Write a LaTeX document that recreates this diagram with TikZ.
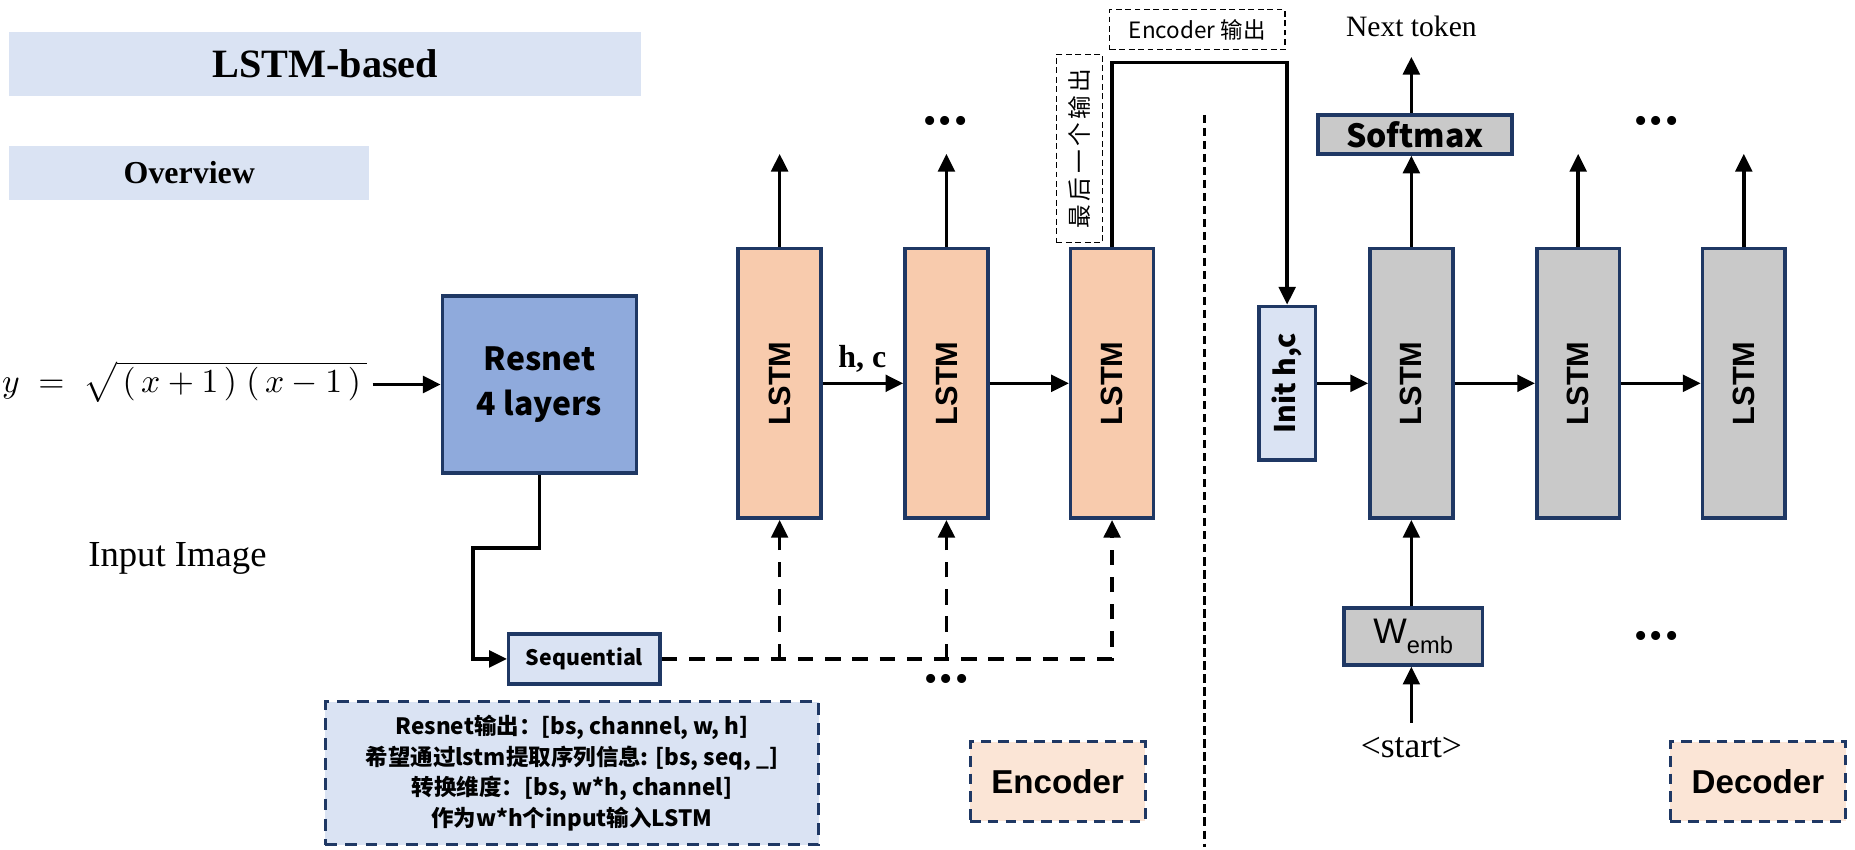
\documentclass[tikz,border=0pt]{standalone}
\usepackage{fontspec}
\setmainfont{Liberation Serif}
\setsansfont{Liberation Sans}
\newfontfamily\cjk{Noto Sans CJK SC}
\usetikzlibrary{arrows.meta}
\definecolor{navyb}{rgb}{0.122,0.220,0.392}
\definecolor{paleblue}{rgb}{0.855,0.890,0.953}
\definecolor{resblue}{rgb}{0.561,0.667,0.863}
\definecolor{lstmorange}{rgb}{0.973,0.796,0.678}
\definecolor{lstmgray}{rgb}{0.788,0.788,0.788}
\definecolor{tagorange}{rgb}{0.984,0.898,0.839}
\tikzset{
  lstmenc/.style={draw=navyb,line width=3pt,fill=lstmorange,minimum width=70,minimum height=228,inner sep=0pt,font=\sffamily\bfseries\fontsize{26}{26}\selectfont},
  lstmdec/.style={lstmenc,fill=lstmgray},
  plainbox/.style={draw=navyb,line width=3pt,inner sep=0pt},
  tagbox/.style={draw=navyb,line width=2.5pt,dash pattern=on 9pt off 6pt,fill=tagorange,minimum width=148,minimum height=67,inner sep=0pt,font=\sffamily\bfseries\fontsize{28}{28}\selectfont},
  hintbox/.style={draw=black,line width=1.3pt,dash pattern=on 5pt off 3pt,inner sep=0pt},
  flow/.style={->,line width=3pt},
  feed/.style={->,line width=3pt,dash pattern=on 13pt off 10pt},
  dots/.style={inner sep=0pt,font=\fontsize{32}{32}\selectfont},
}
\begin{document}
\begin{tikzpicture}[line join=miter,>={Triangle[length=15pt,width=14pt]},x=1pt,y=-1pt]
\useasboundingbox (0,0) rectangle (1568,718);
% headings
\node[fill=paleblue,minimum width=534,minimum height=54,inner sep=0pt,font=\bfseries\fontsize{34}{34}\selectfont] (title) at (275,54) {LSTM-based};
\node[fill=paleblue,minimum width=304,minimum height=46,inner sep=0pt,font=\bfseries\fontsize{27}{27}\selectfont] (overview) at (160,146) {Overview};
% input side
\node[anchor=east,inner sep=0pt] (formula) at (310,323) {\resizebox{308pt}{!}{$y\;=\;\sqrt{\,(\,x+1\,)\;(\,x-1\,)\,}$}};
\node[inner sep=0pt,font=\fontsize{31}{31}\selectfont] (caption) at (150,472) {Input Image};
\node[plainbox,fill=resblue,minimum width=164,minimum height=150,align=center,font=\cjk\bfseries\fontsize{27}{38}\selectfont] (resnet) at (456,325) {Resnet\\4 layers};
\node[plainbox,fill=paleblue,minimum width=128,minimum height=42,font=\cjk\bfseries\fontsize{18}{18}\selectfont] (seq) at (494,557) {Sequential};
\node[plainbox,draw=navyb,dash pattern=on 10pt off 7pt,fill=paleblue,minimum width=417,minimum height=121,align=center,font=\cjk\bfseries\fontsize{19}{26}\selectfont] (note) at (483.5,653.5) {Resnet输出：[bs, channel, w, h]\\希望通过lstm提取序列信息: [bs, seq, \_]\\转换维度：[bs, w*h, channel]\\作为w*h个input输入LSTM};
% encoder
\node[lstmenc] (e1) at (659,324) {\rotatebox{90}{LSTM}};
\node[lstmenc] (e2) at (800,324) {\rotatebox{90}{LSTM}};
\node[lstmenc] (e3) at (940,324) {\rotatebox{90}{LSTM}};
\node[inner sep=0pt,font=\bfseries\fontsize{27}{27}\selectfont] (hc) at (729,303) {h, c};
\node[dots] (edotsup) at (799,106) {\textbullet\hspace{2pt}\textbullet\hspace{2pt}\textbullet};
\node[dots] (edotsdown) at (800,577) {\textbullet\hspace{2pt}\textbullet\hspace{2pt}\textbullet};
\node[hintbox,minimum width=39,minimum height=159] (lasthint) at (912.5,125.5) {\rotatebox{90}{\cjk\fontsize{20}{20}\selectfont 最\hspace{3pt}后\hspace{3pt}一\hspace{3pt}个\hspace{3pt}输\hspace{3pt}出}};
\node[hintbox,minimum width=148,minimum height=34] (enchint) at (1012,25) {\cjk\fontsize{19}{19}\selectfont Encoder 输出};
\node[tagbox] (enctag) at (894,660.5) {Encoder};
% decoder
\node[plainbox,fill=paleblue,minimum width=48,minimum height=130,font=\cjk\bfseries\fontsize{24}{24}\selectfont] (init) at (1088,324) {\rotatebox{90}{Init h,c}};
\node[lstmdec] (d1) at (1193,324) {\rotatebox{90}{LSTM}};
\node[lstmdec] (d2) at (1334,324) {\rotatebox{90}{LSTM}};
\node[lstmdec] (d3) at (1474,324) {\rotatebox{90}{LSTM}};
\node[plainbox,fill=lstmgray,minimum width=164,minimum height=33,font=\cjk\bfseries\fontsize{27}{27}\selectfont] (soft) at (1196,113.5) {Softmax};
\node[inner sep=0pt,font=\fontsize{25}{25}\selectfont] (next) at (1193,22) {Next token};
\node[plainbox,fill=lstmgray,minimum width=117,minimum height=48,font=\sffamily\fontsize{30}{30}\selectfont] (wemb) at (1194.5,538) {W\raisebox{-0.3em}{\fontsize{20}{20}\selectfont emb}};
\node[inner sep=0pt,font=\fontsize{30}{30}\selectfont] (start) at (1193,632) {\textless start\textgreater};
\node[dots] (ddotsup) at (1400,106) {\textbullet\hspace{2pt}\textbullet\hspace{2pt}\textbullet};
\node[dots] (ddotsdown) at (1400,541) {\textbullet\hspace{2pt}\textbullet\hspace{2pt}\textbullet};
\node[tagbox] (dectag) at (1486,660.5) {Decoder};
% turning points and free ends
\coordinate (rbend) at (400,463);
\coordinate (encbend) at (1088,53);
\coordinate (e1out) at (659,130);
\coordinate (e2out) at (800,130);
\coordinate (d2out) at (1334,130);
\coordinate (d3out) at (1474,130);
\coordinate (septop) at (1018,97);
\coordinate (sepbot) at (1018,716);
% connectors
\draw[flow] ([xshift=5pt]formula.east |- resnet.west) -- (resnet.west);
\draw[flow] (resnet.south) |- (rbend) |- (seq.west);
\draw[feed] (seq.east) -| (e3.south);
\draw[feed] (e1.south |- seq.east) -- (e1.south);
\draw[feed] (e2.south |- seq.east) -- (e2.south);
\draw[flow] (e1.east) -- (e2.west);
\draw[flow] (e2.east) -- (e3.west);
\draw[flow] (e1.north) -- (e1out);
\draw[flow] (e2.north) -- (e2out);
\draw[flow] (e3.north) |- (encbend) -- (init.north);
\draw[line width=2.5pt,dash pattern=on 7pt off 4pt] (septop) -- (sepbot);
\draw[flow] (init.east) -- (d1.west);
\draw[flow] (d1.east) -- (d2.west);
\draw[flow] (d2.east) -- (d3.west);
\draw[flow] (d1.north) -- (d1.north |- soft.south);
\draw[flow,shorten >=17pt] (soft.north -| d1.north) -- (next.south);
\draw[flow] (d2.north) -- (d2out);
\draw[flow] (d3.north) -- (d3out);
\draw[flow] (wemb.north -| d1.south) -- (d1.south);
\draw[flow,shorten <=12pt] (start.north) -- (wemb.south -| start.north);
\end{tikzpicture}
\end{document}
